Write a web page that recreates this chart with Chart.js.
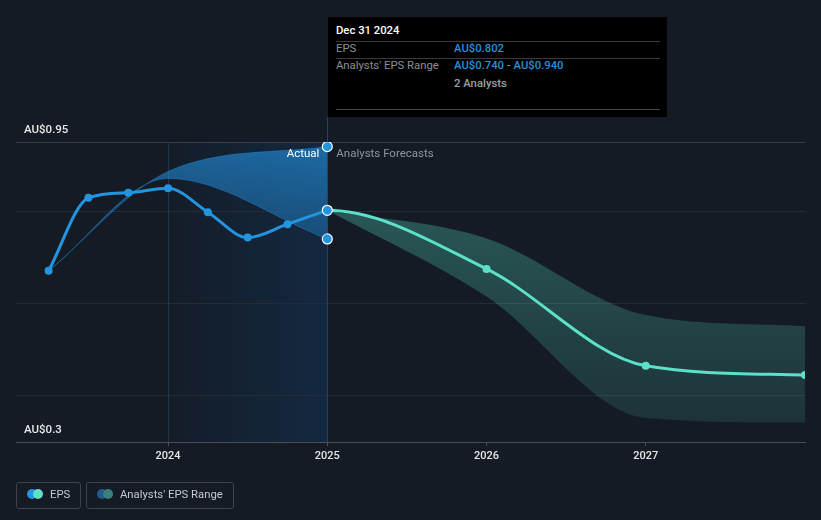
<!DOCTYPE html>
<html><head><meta charset="utf-8">
<script src="https://cdn.jsdelivr.net/npm/chart.js@4.4.1/dist/chart.umd.min.js"></script>
<style>
html,body{margin:0;padding:0;background:#151b25;width:821px;height:520px;overflow:hidden;font-family:Roboto,"Open Sans",sans-serif}
#wrap{position:relative;width:821px;height:520px}
#c{position:absolute;left:0;top:0}
.tip{position:absolute;left:328px;top:17px;width:339px;height:100px;background:#000;font-size:11.3px}
.tip div{position:absolute;white-space:nowrap;line-height:14px}
.tip .hr{height:1px;left:8px;width:324px;background:#3a3a3a}
.lg{position:absolute;top:482px;height:27px;border:1px solid #3d424b;border-radius:3px;box-sizing:border-box;font-size:11.3px;color:#c4c8ce}
.lg span{position:absolute;top:12px;transform:translateY(-50%);line-height:14px;white-space:nowrap}
.dot{position:absolute;top:6px;width:10px;height:10px;border-radius:50%}
</style></head>
<body><div id="wrap"><canvas id="c" width="821" height="520"></canvas>
<div class="tip" id="tip"></div>
<div class="lg" style="left:16px;width:65px"><i class="dot" style="left:10px;background:#2394df"></i><i class="dot" style="left:16px;background:#5ce1c8"></i><span style="left:33px">EPS</span></div>
<div class="lg" style="left:86px;width:148px"><i class="dot" style="left:10px;background:#1f5d8c"></i><i class="dot" style="left:16px;background:#3a7f7e"></i><span style="left:33px">Analysts' EPS Range</span></div>
</div>
<script>
const years = [2023.25, 2023.5, 2023.75, 2024, 2024.25, 2024.5, 2024.75, 2025];
const epsActual = [0.671, 0.829, 0.840, 0.850, 0.798, 0.743, 0.772, 0.802];
const pastRangeX = [2023.25, 2024, 2025];
const pastRangeHigh = [0.671, 0.886, 0.940];
const pastRangeLow = [0.671, 0.871, 0.740];
const forecastX = [2024.75, 2025, 2026, 2027, 2028];
const epsForecast = [0.772, 0.802, 0.675, 0.465, 0.445];
const rangeX = [2025, 2026, 2027, 2028];
const rangeHigh = [0.802, 0.741, 0.575, 0.551];
const rangeLow = [0.802, 0.615, 0.352, 0.342];
const yearTicks = [2024, 2025, 2026, 2027];
const yGrid = [0.3, 0.4, 0.6, 0.8, 0.95];
const yLabels = [0.3, 0.95];
const tipDate = 'Dec 31 2024';
const analystsCount = 2;

const BLUE = '#2394df', TEAL = '#5ce1c8';
const FONT = 'Roboto, "Open Sans", sans-serif';
const pts = (xs, ys) => xs.map((x, i) => ({x, y: ys[i]}));

const fmt = v => 'AU$' + v.toFixed(3);
const last = epsActual.length - 1;
document.getElementById('tip').innerHTML =
  `<div style="left:8px;top:7px;color:#fff;font-weight:500">${tipDate}</div>
   <div class="hr" style="top:24px"></div>
   <div style="left:8px;top:25px;color:#8a9099">EPS</div>
   <div style="left:126px;top:25px;color:#2a8fdc;font-weight:500">${fmt(epsActual[last])}</div>
   <div class="hr" style="top:41px"></div>
   <div style="left:8px;top:42px;color:#8a9099">Analysts' EPS Range</div>
   <div style="left:126px;top:42px;color:#2a8fdc;font-weight:500">${fmt(pastRangeLow[2])} <span style="color:#8a9099">-</span> ${fmt(pastRangeHigh[2])}</div>
   <div style="left:126px;top:60px;color:#9aa0a6;font-weight:500">${analystsCount} Analysts</div>
   <div class="hr" style="top:92px;background:#444"></div>`;

function vGrad(ctx, c0, c1, v0, v1) {
  const ch = ctx.chart, a = ch.chartArea;
  if (!a) return c0;
  const y = ch.scales.y;
  const g = ch.ctx.createLinearGradient(0, y.getPixelForValue(v0), 0, y.getPixelForValue(v1));
  g.addColorStop(0, c0); g.addColorStop(1, c1);
  return g;
}

const bgPlugin = {
  id: 'bg',
  beforeDraw(ch) {
    const {ctx, chartArea: a, scales: {x}} = ch;
    const x0 = x.getPixelForValue(2024), x1 = x.getPixelForValue(2025);
    const g = ctx.createLinearGradient(x0, 0, x1, 0);
    g.addColorStop(0, 'rgba(16,80,140,0.04)');
    g.addColorStop(1, 'rgba(16,80,140,0.26)');
    ctx.save();
    ctx.fillStyle = g;
    ctx.fillRect(x0, a.top, x1 - x0, a.bottom - a.top);
    ctx.restore();
  },
  beforeDatasetsDraw(ch) {
    const {ctx, chartArea: a, scales: {x}} = ch;
    ctx.save();
    ctx.lineWidth = 1;
    ctx.strokeStyle = '#1c3850';
    let px = Math.round(x.getPixelForValue(2024)) + 0.5;
    ctx.beginPath(); ctx.moveTo(px, a.top); ctx.lineTo(px, a.bottom); ctx.stroke();
    ctx.strokeStyle = '#1d4466';
    px = Math.round(x.getPixelForValue(2025)) + 0.5;
    ctx.beginPath(); ctx.moveTo(px, 117); ctx.lineTo(px, a.bottom); ctx.stroke();
    ctx.restore();
  },
  afterDatasetsDraw(ch) {
    const {ctx, scales: {x, y}} = ch;
    ctx.save();
    ctx.font = '500 11.5px ' + FONT;
    ctx.textBaseline = 'middle';
    ctx.fillStyle = '#e6e6e6';
    ctx.textAlign = 'left';
    yLabels.forEach(v => ctx.fillText('AU$' + v, 24, y.getPixelForValue(v) - 11.5));
    const xp = x.getPixelForValue(2025);
    const ty = y.getPixelForValue(0.95) + 12.5;
    ctx.font = '11.5px ' + FONT;
    ctx.textAlign = 'right';
    ctx.fillStyle = '#ffffff';
    ctx.fillText('Actual', xp - 8, ty);
    ctx.textAlign = 'left';
    ctx.fillStyle = '#8f959c';
    ctx.fillText('Analysts Forecasts', xp + 9, ty);
    ctx.restore();
  }
};

new Chart(document.getElementById('c'), {
  type: 'line',
  data: {
    datasets: [
      {
        data: pts(years, epsActual), borderColor: BLUE, borderWidth: 3,
        backgroundColor: BLUE, cubicInterpolationMode: 'monotone', fill: false,
        pointRadius: c => c.dataIndex === last ? 5 : 4,
        pointBackgroundColor: BLUE,
        pointBorderColor: c => c.dataIndex === last ? '#ffffff' : BLUE,
        pointBorderWidth: c => c.dataIndex === last ? 1.2 : 0,
        order: 1
      },
      {
        data: pts(forecastX, epsForecast), borderColor: TEAL, borderWidth: 3,
        cubicInterpolationMode: 'monotone', fill: false,
        segment: { borderColor: c => c.p0DataIndex === 0 ? 'rgba(0,0,0,0)' : TEAL },
        pointRadius: c => c.dataIndex < 2 ? 0 : 4,
        pointBackgroundColor: TEAL, pointBorderWidth: 0,
        order: 2
      },
      {
        data: pts(pastRangeX, pastRangeHigh), borderColor: 'rgba(35,148,230,0.35)', borderWidth: 1,
        cubicInterpolationMode: 'monotone', fill: '+1',
        backgroundColor: c => vGrad(c, 'rgba(35,148,230,0.62)', 'rgba(35,148,230,0.32)', 0.95, 0.72),
        pointRadius: c => c.dataIndex === 2 ? 5 : 0,
        pointBackgroundColor: BLUE, pointBorderColor: '#ffffff', pointBorderWidth: 1.2,
        order: 3
      },
      {
        data: pts(pastRangeX, pastRangeLow), borderColor: 'rgba(35,148,230,0.35)', borderWidth: 1,
        cubicInterpolationMode: 'monotone', fill: false,
        pointRadius: c => c.dataIndex === 2 ? 5 : 0,
        pointBackgroundColor: BLUE, pointBorderColor: '#ffffff', pointBorderWidth: 1.2,
        order: 3
      },
      {
        data: pts(rangeX, rangeHigh), borderColor: 'rgba(0,0,0,0)', borderWidth: 0,
        cubicInterpolationMode: 'monotone', fill: '+1',
        backgroundColor: c => vGrad(c, 'rgba(90,225,200,0.30)', 'rgba(90,225,200,0.12)', 0.8, 0.34),
        pointRadius: 0, order: 4
      },
      {
        data: pts(rangeX, rangeLow), borderColor: 'rgba(0,0,0,0)', borderWidth: 0,
        cubicInterpolationMode: 'monotone', fill: false, pointRadius: 0, order: 4
      }
    ]
  },
  options: {
    responsive: false, animation: false, events: [],
    layout: { padding: { left: 16, right: 16, top: 142, bottom: 0 } },
    plugins: { legend: { display: false }, tooltip: { enabled: false } },
    scales: {
      x: {
        type: 'linear', min: 2023.045, max: 2028,
        afterBuildTicks: s => { s.ticks = yearTicks.map(v => ({value: v})); },
        afterFit: s => { s.height = 78; },
        grid: { drawOnChartArea: false, drawTicks: true, tickLength: 4, color: '#4a4f57' },
        border: { display: true, color: '#4a4f57', width: 1 },
        ticks: { color: '#e6e6e6', font: { family: FONT, size: 11, weight: '500' }, padding: 4,
                 callback: v => String(v), maxRotation: 0 }
      },
      y: {
        type: 'linear', min: 0.3, max: 0.95,
        afterBuildTicks: s => { s.ticks = yGrid.map(v => ({value: v})); },
        afterFit: s => { s.width = 0; },
        ticks: { display: false },
        border: { display: false },
        grid: { drawTicks: false, lineWidth: 1,
                color: c => c.tick && c.tick.value === 0.95 ? '#3a3f47' : (c.tick && c.tick.value === 0.3 ? 'rgba(0,0,0,0)' : '#262c35') }
      }
    }
  },
  plugins: [bgPlugin]
});
</script>
</body></html>
